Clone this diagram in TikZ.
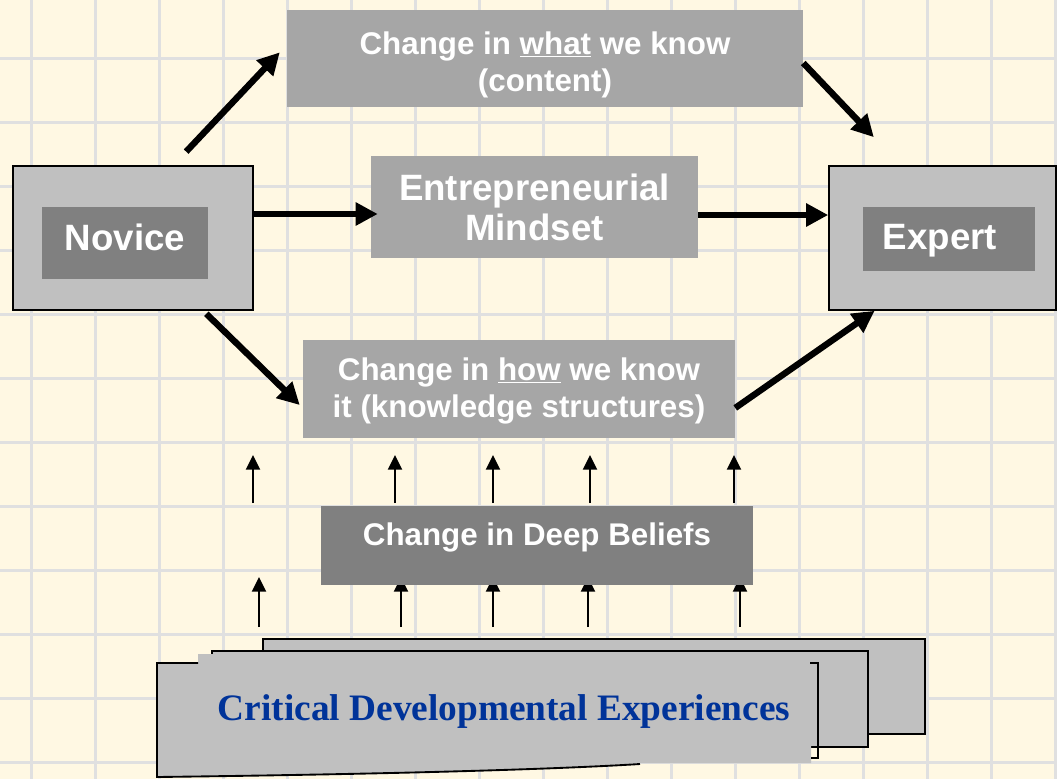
\documentclass[tikz,border=0pt]{standalone}
\usepackage{fontspec}
\setmainfont{Liberation Serif}
\setsansfont{Liberation Sans}
\usetikzlibrary{arrows.meta}
\definecolor{bgcream}{HTML}{FFF8E3}
\definecolor{gridgray}{HTML}{E0E0E0}
\definecolor{lightbox}{HTML}{C0C0C0}
\definecolor{midbox}{HTML}{A6A6A6}
\definecolor{darkbox}{HTML}{808080}
\definecolor{cdeblue}{HTML}{003399}

\begin{document}

\begin{tikzpicture}[x=0.75pt,y=-0.75pt,
  gridline/.style={draw=gridgray, line width=2.25pt},
  smallfont/.style={font=\fontsize{23.5}{27.75}\selectfont\sffamily\bfseries},
  bigfont/.style={font=\fontsize{27.5}{30}\selectfont\sffamily\bfseries},
  outerbox/.style={draw, line width=1.2pt, fill=lightbox, inner sep=0pt},
  innerbox/.style={fill=darkbox, text=white, bigfont, inner sep=0pt},
  graybox/.style={fill=midbox, text=white, smallfont, align=center, inner sep=0pt},
  sheet/.style={draw, line width=1.4pt, fill=lightbox},
  bigarrow/.style={line width=4.8pt, -{Triangle[length=16.5pt,width=16.5pt]}},
  thinarrow/.style={line width=1.6pt, -{Triangle[length=11pt,width=10.5pt]}}]

% background and grid
\fill[bgcream] (0,0) rectangle (1057,779);
\useasboundingbox (0,0) rectangle (1057,779);
\foreach \x in {31,95,...,1055} \draw[gridline] (\x,0) -- (\x,779);
\foreach \y in {58,122,...,762} \draw[gridline] (0,\y) -- (1057,\y);

% novice and expert
\node[outerbox, minimum width=180pt, minimum height=108pt] (novice) at (133,238) {};
\node[innerbox, minimum width=124.5pt, minimum height=54pt, text height=20.25pt, text depth=9.75pt] (novicein) at (125,243) {Novice};

\node[outerbox, minimum width=170.25pt, minimum height=108pt] (expert) at (942.5,238) {};
\node[innerbox, minimum width=129pt, minimum height=48pt, text height=20.25pt, text depth=5.25pt] (expertin) at (949,239) {Expert\hspace*{13.5pt}};

% middle boxes
\node[graybox, minimum width=387pt, minimum height=72.75pt] (what) at (545,58.5) {\rule{0pt}{26.25pt}Change in \underline{what} we know\\(content)};
\node[graybox, bigfont, minimum width=245.25pt, minimum height=76.5pt] (mind) at (534.5,207) {Entrepreneurial\\Mindset};
\node[graybox, minimum width=324pt, minimum height=73.5pt] (how) at (519,389) {\rule{0pt}{20pt}Change in \underline{how} we know\\it (knowledge structures)};

% small arrows
\foreach \x in {253,395,493,590,734} \draw[thinarrow] (\x,503) -- (\x,455);
\foreach \x in {259,401,493,588,740} \draw[thinarrow] (\x,627) -- (\x,577);

\node[graybox, fill=darkbox, minimum width=324pt, minimum height=59.25pt, text height=16.5pt, text depth=17.25pt] (deep) at (537,545.5) {Change in Deep Beliefs};

% stacked sheets
\draw[sheet] (263,639) rectangle (925,734);
\draw[sheet] (212,651) rectangle (868,747);
\fill[lightbox] (157,663) -- (198,663) -- (198,654) -- (811,654) -- (811,763) -- (640,763)
  .. controls (560,769) and (400,774) .. (157,777) -- cycle;
\draw[line width=1.4pt] (198,663) -- (157,663) -- (157,777) .. controls (400,774) and (560,769) .. (640,764);
\draw[line width=1.4pt] (810,663) -- (818,663) -- (818,758) -- (811,758);
\node[anchor=base, text=cdeblue, font=\fontsize{28}{32}\selectfont\rmfamily\bfseries] (cde) at (504,720) {Critical Developmental Experiences};

% big arrows
\draw[bigarrow, shorten <=14pt, shorten >=7.6pt] (novice.61) -- (what.177.6);
\draw[bigarrow, shorten >=-5.25pt] (novice.east |- 0,214) -- (mind.west |- 0,214);
\draw[bigarrow, shorten <=3.2pt, shorten >=3.1pt] (novice.-46) -- (how.185);
\draw[bigarrow, shorten >=29pt] (what.-1) -- (expert.120.3);
\draw[bigarrow] (mind.east |- 0,215) -- (expert.west |- 0,215);
\draw[bigarrow] (how.-5) -- (expert.-133.2);

\end{tikzpicture}

\end{document}
